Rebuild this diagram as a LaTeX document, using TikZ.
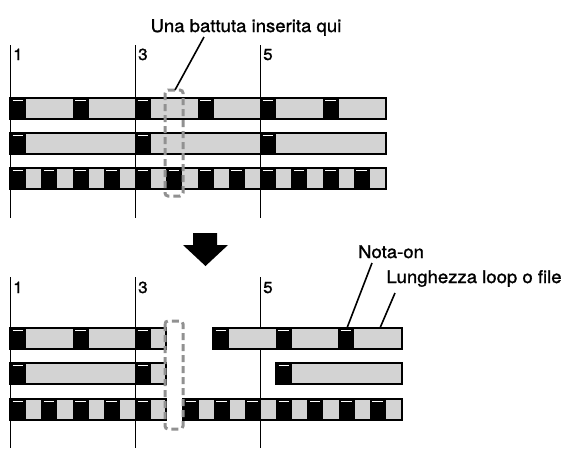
\documentclass[tikz,border=0pt]{standalone}
\usepackage{fontspec}
\setmainfont[FakeStretch=1.06,FakeBold=1.4]{TeX Gyre Heros}
\definecolor{barg}{RGB}{211,211,211}
\definecolor{dashg}{RGB}{145,145,145}
\newcommand\segbar[4]{%
  \draw[barfill] (#1,#3) rectangle (#2,#3+21);
  \foreach \b in {#4} {%
    \fill (\b,#3) rectangle (\b+16,#3+21);
    \draw[hl] (\b+2.5,#3+2) -- (\b+13,#3+2);
  }
  \draw[barline] (#1,#3) rectangle (#2,#3+21);
}
\begin{document}
\begin{tikzpicture}[x=1pt,y=-1pt,
  barfill/.style={fill=barg,draw=black,line width=1.2pt},
  barline/.style={draw=black,line width=1.2pt},
  hl/.style={draw=white,line width=0.8pt},
  vline/.style={draw=black,line width=1pt},
  dashbox/.style={draw=dashg,line width=3pt,dash pattern=on 7pt off 4pt,rounded corners=3pt},
  lbl/.style={font=\fontsize{17.5}{20}\selectfont,inner sep=0pt,anchor=base},
  num/.style={font=\fontsize{16}{18}\selectfont,inner sep=0pt,anchor=base west},
  leader/.style={draw=black,line width=1.6pt}]
\useasboundingbox (0,0) rectangle (568,448);
% ---------- top ----------
\foreach \x in {10,135,260} \draw[vline] (\x,45) -- (\x,218);
\node[num] (t1) at (13,60) {1};
\node[num] (t3) at (138,60) {3};
\node[num] (t5) at (263,60) {5};
\segbar{10}{386}{98}{10,72.5,135,197.5,260,322.5}
\segbar{10}{386}{133}{10,135,260}
\segbar{10}{386}{168}{10,41.25,72.5,103.75,135,166.25,197.5,228.75,260,291.25,322.5,353.75}
\draw[dashbox] (165,90) rectangle (183,196);
\node[lbl] (una) at (246,32) {Una battuta inserita qui};
\coordinate (u1) at (204,37);
\coordinate (u2) at (175,90);
\draw[leader] (u1) -- (u2);
% ---------- arrow ----------
\fill (193,233) -- (217,233) -- (217,245) -- (228,245) -- (205.5,266) -- (183,245) -- (193,245) -- cycle;
% ---------- bottom ----------
\foreach \x in {10,135,260} \draw[vline] (\x,277) -- (\x,448);
\node[num] (b1) at (13,293) {1};
\node[num] (b3) at (138,293) {3};
\node[num] (b5) at (263,293) {5};
\segbar{10}{166}{328}{10,72.5,135}
\segbar{213}{402}{328}{213,275.5,338}
\segbar{10}{166}{363}{10,135}
\segbar{276}{402}{363}{276}
\segbar{10}{166}{399}{10,41.25,72.5,103.75,135}
\segbar{183}{402}{399}{183,213.5,244.75,276,307.25,338.5,369.75}
\draw[dashbox] (165,321) rectangle (183,429);
\node[lbl] (nota) at (391,258) {Nota-on};
\node[lbl] (lung) at (474,283) {Lunghezza loop o file};
\coordinate (n1) at (372,263);
\coordinate (n2) at (347,328);
\coordinate (l1) at (395,293);
\coordinate (l2) at (380,328);
\draw[leader] (n1) -- (n2);
\draw[leader] (l1) -- (l2);
\end{tikzpicture}
\end{document}
